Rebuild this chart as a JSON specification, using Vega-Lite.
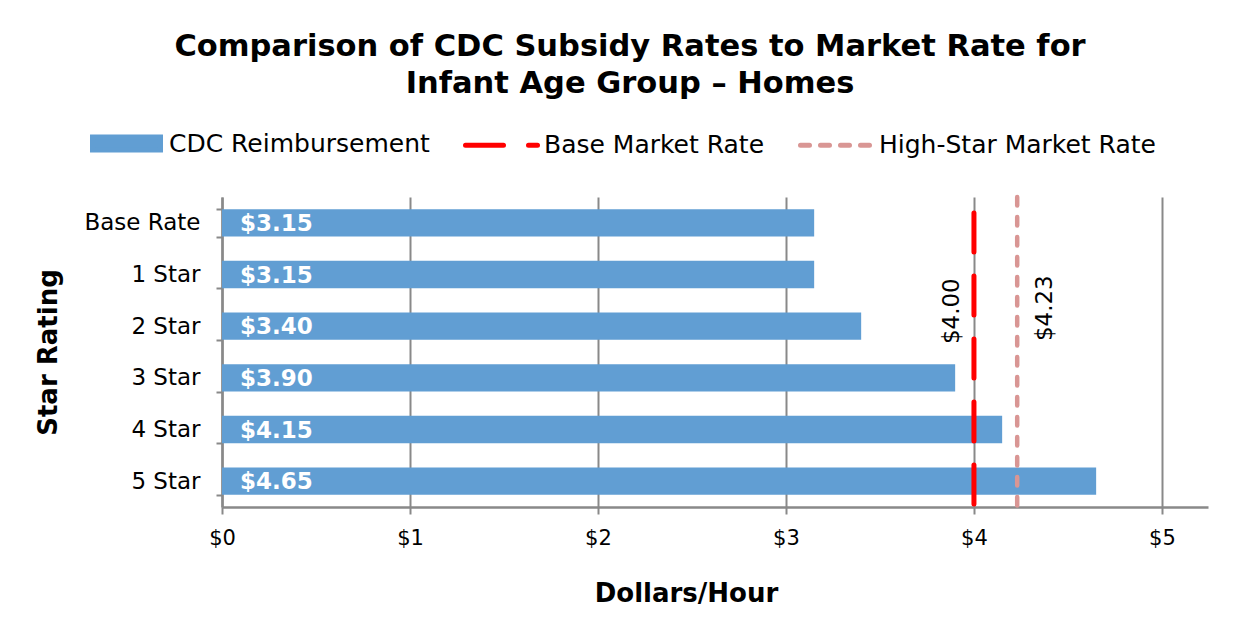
{
  "$schema": "https://vega.github.io/schema/vega-lite/v6.json",
  "width": 986,
  "height": 310,
  "autosize": "none",
  "padding": {"left": 222, "top": 197, "right": 46, "bottom": 118},
  "background": "white",
  "config": {
    "font": "DejaVu Sans",
    "view": {"stroke": null},
    "axis": {"labelColor": "#000000", "titleColor": "#000000", "labelFont": "DejaVu Sans", "titleFont": "DejaVu Sans"}
  },
  "title": {
    "text": ["Comparison of CDC Subsidy Rates to Market Rate for", "Infant Age Group – Homes"],
    "font": "DejaVu Sans",
    "fontSize": 30.5,
    "fontWeight": "bold",
    "color": "#000000",
    "lineHeight": 37,
    "anchor": "middle",
    "dx": -85,
    "offset": 6
  },
  "layer": [
    {
      "data": {"values": [
        {"rating": "Base Rate", "value": 3.15},
        {"rating": "1 Star", "value": 3.15},
        {"rating": "2 Star", "value": 3.40},
        {"rating": "3 Star", "value": 3.90},
        {"rating": "4 Star", "value": 4.15},
        {"rating": "5 Star", "value": 4.65}
      ]},
      "layer": [
        {
          "mark": {"type": "bar"},
          "encoding": {
            "y": {
              "field": "rating", "type": "nominal", "sort": null,
              "scale": {"paddingInner": 0.47, "paddingOuter": 0.235},
              "axis": {
                "title": "Star Rating", "titleFontSize": 26, "titleFontWeight": "bold", "titlePadding": 22,
                "labelFontSize": 23, "labelPadding": 16, "tickBand": "extent", "tickSize": 6, "tickWidth": 2,
                "tickColor": "#898989", "domainColor": "#898989", "domainWidth": 2.5, "grid": false
              }
            },
            "x": {
              "field": "value", "type": "quantitative",
              "scale": {"domain": [0, 5.245], "nice": false, "zero": true},
              "axis": {
                "title": "Dollars/Hour", "titleFontSize": 26, "titleFontWeight": "bold", "titlePadding": 32, "titleX": 464,
                "values": [0, 1, 2, 3, 4, 5], "format": "$.0f", "labelFontSize": 21, "labelPadding": 13, "labelFlush": false,
                "grid": true, "gridColor": "#898989", "gridWidth": 2,
                "tickSize": 7, "tickWidth": 2, "tickColor": "#898989",
                "domainColor": "#898989", "domainWidth": 2.5
              }
            },
            "color": {
              "datum": "CDC Reimbursement", "type": "nominal", "title": null,
              "scale": {"domain": ["CDC Reimbursement", "Base Market Rate", "High-Star Market Rate"], "range": ["#619ED3", "#FF0000", "#D99694"]},
              "legend": {
                "title": null, "orient": "none", "direction": "horizontal", "legendX": -134, "legendY": -92,
                "labelFontSize": 25, "labelFont": "DejaVu Sans", "labelColor": "#000000", "labelLimit": 500,
                "symbolSize": 5184, "symbolStrokeWidth": 5, "labelOffset": 4, "columnPadding": 25, "padding": 0,
                "encode": {
                  "symbols": {
                    "update": {
                      "shape": {"signal": "datum.value === 'CDC Reimbursement' ? 'M-0.944,-0.18H0.944V0.18H-0.944Z' : 'stroke'"},
                      "fill": {"signal": "datum.value === 'CDC Reimbursement' ? '#619ED3' : 'transparent'"},
                      "stroke": {"signal": "datum.value === 'CDC Reimbursement' ? 'transparent' : (datum.value === 'Base Market Rate' ? '#FF0000' : '#D99694')"},
                      "strokeDash": {"signal": "datum.value === 'Base Market Rate' ? [38, 25] : (datum.value === 'High-Star Market Rate' ? [9, 11] : [1, 0])"},
                      "strokeCap": {"value": "round"},
                      "opacity": {"value": 1}
                    }
                  }
                }
              }
            }
          }
        },
        {
          "mark": {"type": "text", "align": "left", "baseline": "middle", "dx": 18, "dy": 1, "color": "white", "fontSize": 23, "fontWeight": "bold", "font": "DejaVu Sans"},
          "encoding": {
            "y": {"field": "rating", "type": "nominal", "sort": null},
            "x": {"datum": 0, "type": "quantitative"},
            "text": {"field": "value", "type": "quantitative", "format": "$.2f"}
          }
        }
      ]
    },
    {
      "data": {"values": [{"series": "Base Market Rate", "rate": 4.00, "label": "$4.00", "at": "2 Star"}]},
      "layer": [
        {
          "mark": {"type": "rule", "strokeWidth": 5, "strokeDash": [39, 24], "strokeDashOffset": 47, "strokeCap": "round"},
          "encoding": {
            "x": {"field": "rate", "type": "quantitative"},
            "color": {"field": "series", "type": "nominal", "title": null}
          }
        },
        {
          "mark": {"type": "text", "angle": 270, "align": "center", "baseline": "middle", "dx": 15, "dy": -22, "fontSize": 23, "color": "#000000", "font": "DejaVu Sans"},
          "encoding": {
            "x": {"field": "rate", "type": "quantitative"},
            "y": {"field": "at", "type": "nominal", "sort": null},
            "text": {"field": "label"}
          }
        }
      ]
    },
    {
      "data": {"values": [{"series": "High-Star Market Rate", "rate": 4.23, "label": "$4.23", "at": "2 Star"}]},
      "layer": [
        {
          "mark": {"type": "rule", "strokeWidth": 4.5, "strokeDash": [8.5, 11.5], "strokeCap": "round"},
          "encoding": {
            "x": {"field": "rate", "type": "quantitative"},
            "color": {"field": "series", "type": "nominal", "title": null}
          }
        },
        {
          "mark": {"type": "text", "angle": 270, "align": "center", "baseline": "middle", "dx": 18, "dy": 27.5, "fontSize": 23, "color": "#000000", "font": "DejaVu Sans"},
          "encoding": {
            "x": {"field": "rate", "type": "quantitative"},
            "y": {"field": "at", "type": "nominal", "sort": null},
            "text": {"field": "label"}
          }
        }
      ]
    }
  ]
}
